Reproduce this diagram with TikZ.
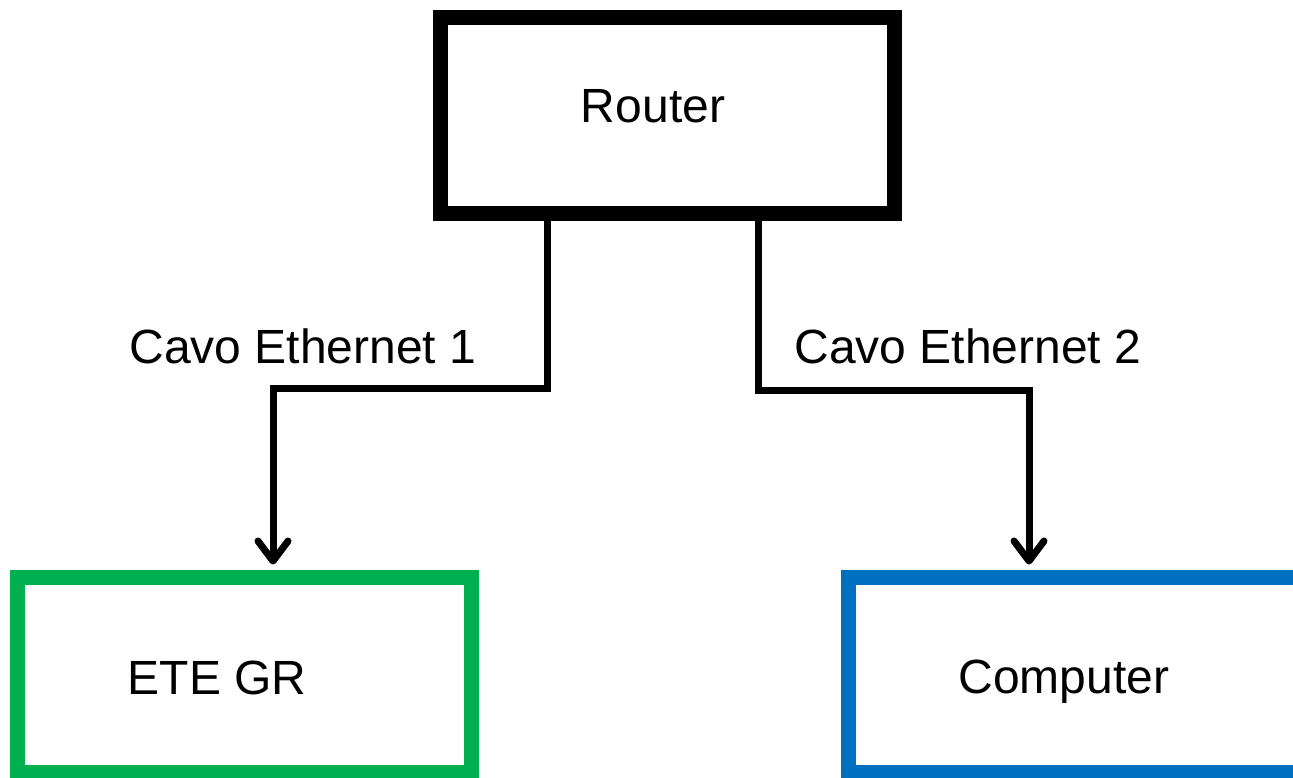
\documentclass[tikz,border=0pt]{standalone}
\usepackage{fontspec}
\setmainfont{Liberation Sans}
\usetikzlibrary{arrows.meta, calc}
\tikzset{%
    box/.style={rectangle, draw, line width=15pt, minimum width=454pt, minimum height=195.5pt, inner sep=0pt},
    cab/.style={line width=7pt, -{Straight Barb[round, length=20pt, width=30pt]}, shorten >=5pt},
    lbl/.style={anchor=base, inner sep=0pt, font=\fontsize{48}{58}\selectfont},
}

\begin{document}
\begin{tikzpicture}[x=1pt, y=1pt]
    \useasboundingbox (0,0) rectangle (1293,-777);
    \node [box] (router) at (667.5,-115.25) {};
    \node [box, draw={rgb,255:red,0;green,176;blue,80}] (ete) at (244.25,-674.75) {};
    \node [box, draw={rgb,255:red,0;green,112;blue,192}] (comp) at (1075.75,-674.75) {};
    \node [lbl] (routertxt) at (653,-122) {Router};
    \node [lbl] (etetxt) at (217,-694) {ETE GR};
    \node [lbl] (comptxt) at (1064,-693) {Computer};
    \draw [cab] ([xshift=-120.5pt]router.south) -- ++(0,-167.5) -| ([xshift=28.75pt]ete.north);
    \draw [cab] ([xshift=90.5pt]router.south) -- ++(0,-169.5) -| ([xshift=-46.75pt]comp.north);
    \node [lbl] (cab1txt) at (303,-363) {Cavo Ethernet 1};
    \node [lbl] (cab2txt) at (968,-363) {Cavo Ethernet 2};
\end{tikzpicture}
\end{document}
